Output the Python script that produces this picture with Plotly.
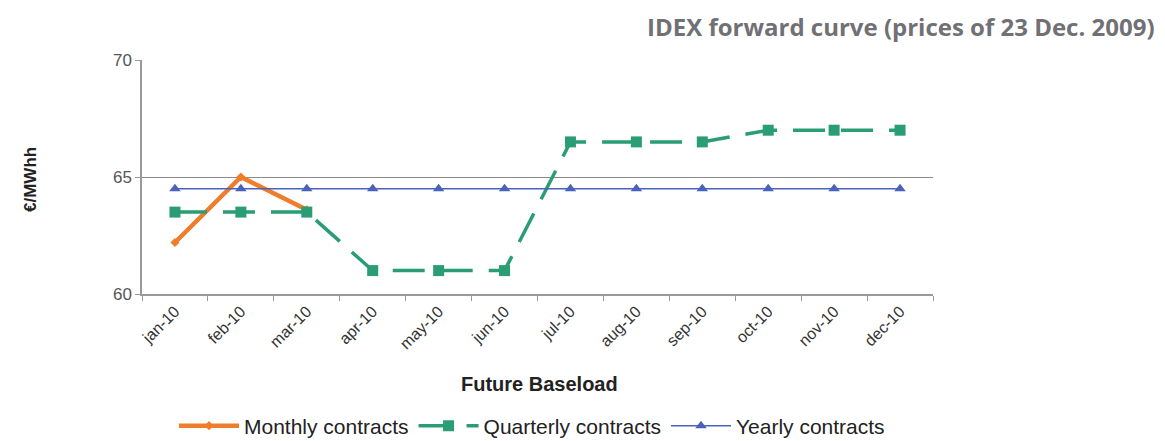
import plotly.graph_objects as go

months = ["jan-10", "feb-10", "mar-10", "apr-10", "may-10", "jun-10",
          "jul-10", "aug-10", "sep-10", "oct-10", "nov-10", "dec-10"]
monthly = [62.2, 65.0, 63.6, None, None, None, None, None, None, None, None, None]
quarterly = [63.5, 63.5, 63.5, 61.0, 61.0, 61.0, 66.5, 66.5, 66.5, 67.0, 67.0, 67.0]
yearly = [64.5] * 12
y_ticks = [60, 65, 70]

# page body adds an 8px offset; figure coordinates below are screen minus 8
W, H = 1157, 433
PL, PR, PT, PB = 134, 925, 52, 286
pw, ph = PR - PL, PB - PT


def px(x):
    return (x - 8 - PL) / pw


def py(y):
    return (PB - (y - 8)) / ph


fig = go.Figure()
fig.add_trace(go.Scatter(x=months, y=monthly, name="Monthly contracts", mode="lines+markers",
                         line=dict(color="#f07d2c", width=4.5),
                         marker=dict(symbol="diamond", size=7, color="#f07d2c")))
fig.add_trace(go.Scatter(x=months, y=quarterly, name="Quarterly contracts", mode="lines+markers",
                         line=dict(color="#2a9d74", width=3.5, dash="32px,16px"),
                         marker=dict(symbol="square", size=11, color="#2a9d74")))
fig.add_trace(go.Scatter(x=months, y=yearly, name="Yearly contracts", mode="lines+markers",
                         line=dict(color="#4a62bb", width=1.5),
                         marker=dict(symbol="triangle-up", size=10, color="#4a62bb")))

fig.update_layout(
    width=W, height=H,
    margin=dict(l=PL, r=W - PR, t=PT, b=H - PB, autoexpand=False),
    plot_bgcolor="white", paper_bgcolor="white",
    font=dict(family="Liberation Sans, Arial, sans-serif", color="#333333"),
    showlegend=True,
    legend=dict(orientation="h", x=px(532), xanchor="center", y=py(426), yanchor="middle",
                font=dict(size=21, color="#222222"), itemwidth=60, tracegroupgap=0,
                bgcolor="rgba(0,0,0,0)"),
    annotations=[
        dict(text="<b>IDEX forward curve (prices of 23 Dec. 2009)</b>",
             xref="paper", yref="paper", x=px(1157), y=py(26),
             xanchor="right", yanchor="middle", showarrow=False,
             font=dict(family="Open Sans, Lato, sans-serif", size=24, color="#707075")),
        dict(text="<b>Future Baseload</b>", xref="paper", yref="paper",
             x=px(539), y=py(384), xanchor="center", yanchor="middle",
             showarrow=False, font=dict(size=20, color="#222222")),
        dict(text="<b>€/MWhh</b>", xref="paper", yref="paper",
             x=px(30), y=py(180), xanchor="center", yanchor="middle",
             textangle=-90, showarrow=False, font=dict(size=17, color="#222222")),
    ],
)
fig.update_xaxes(type="category", range=[-0.5, 11.5], tickangle=-45, automargin=False,
                 tickson="boundaries", ticks="outside", ticklen=5, tickcolor="#999999",
                 showline=True, linecolor="#999999", linewidth=1.5, showgrid=False,
                 tickfont=dict(size=16, color="#333333"))
fig.update_yaxes(range=[60, 70], tickvals=y_ticks, ticks="outside", ticklen=5, automargin=False,
                 tickcolor="#999999", showline=True, linecolor="#999999", linewidth=1.5,
                 showgrid=True, gridcolor="#8a8a8a", gridwidth=1, zeroline=False,
                 tickfont=dict(size=17, color="#555555"))

fig.write_html("out.html")
